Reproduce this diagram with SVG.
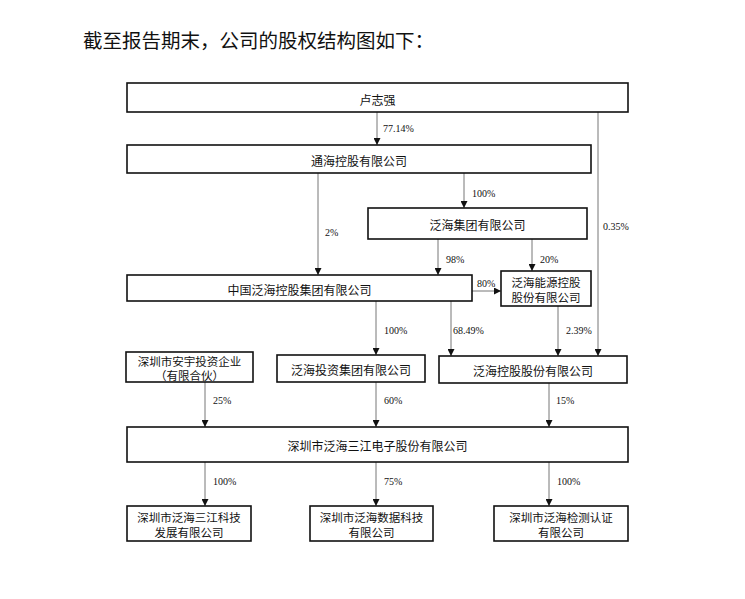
<svg xmlns="http://www.w3.org/2000/svg" width="745" height="599" viewBox="0 0 745 599">
<style>
.box{fill:#fff;stroke:#111;stroke-width:1.6}
.t{font-family:"Noto Sans CJK SC","Liberation Serif",serif;font-size:12px;fill:#111;text-anchor:middle;dominant-baseline:central}
.t2{font-size:11.5px}
.lbl{font-family:"Liberation Serif",serif;font-size:10px;fill:#111;dominant-baseline:central}
.ln{stroke:#777;stroke-width:1;fill:none;marker-end:url(#ah)}
.title{font-family:"Noto Sans CJK SC",sans-serif;font-size:19.5px;fill:#111}
</style>
<defs>
<marker id="ah" markerUnits="userSpaceOnUse" markerWidth="7" markerHeight="7" viewBox="0 0 6 6" refX="6" refY="3" orient="auto">
<path d="M0,0 L6,3 L0,6 z" fill="#111"/>
</marker>
</defs>
<rect width="745" height="599" fill="#fff"/>
<text class="title" x="83" y="48">截至报告期末，公司的股权结构图如下：</text>

<g id="connectors">
<line class="ln" x1="377" y1="112" x2="377" y2="145"/>
<line class="ln" x1="598" y1="112" x2="598" y2="356"/>
<line class="ln" x1="318" y1="173" x2="318" y2="275"/>
<line class="ln" x1="464" y1="173" x2="464" y2="208"/>
<line class="ln" x1="438" y1="239" x2="438" y2="275"/>
<line class="ln" x1="532" y1="239" x2="532" y2="271"/>
<line class="ln" x1="472" y1="291" x2="501" y2="291"/>
<line class="ln" x1="376" y1="301" x2="376" y2="355"/>
<line class="ln" x1="451" y1="301" x2="451" y2="356"/>
<line class="ln" x1="558" y1="306" x2="558" y2="356"/>
<line class="ln" x1="205" y1="382" x2="205" y2="427"/>
<line class="ln" x1="376" y1="382" x2="376" y2="427"/>
<line class="ln" x1="549" y1="383" x2="549" y2="427"/>
<line class="ln" x1="205" y1="462" x2="205" y2="506"/>
<line class="ln" x1="376" y1="462" x2="376" y2="506"/>
<line class="ln" x1="549" y1="462" x2="549" y2="506"/>
<text class="lbl" x="383" y="128">77.14%</text>
<text class="lbl" x="603" y="226">0.35%</text>
<text class="lbl" x="325" y="232">2%</text>
<text class="lbl" x="472" y="193">100%</text>
<text class="lbl" x="446" y="259">98%</text>
<text class="lbl" x="540" y="259">20%</text>
<text class="lbl" x="477" y="283">80%</text>
<text class="lbl" x="384" y="330">100%</text>
<text class="lbl" x="453" y="330">68.49%</text>
<text class="lbl" x="566" y="330">2.39%</text>
<text class="lbl" x="213" y="400">25%</text>
<text class="lbl" x="384" y="400">60%</text>
<text class="lbl" x="556" y="400">15%</text>
<text class="lbl" x="213" y="481">100%</text>
<text class="lbl" x="384" y="481">75%</text>
<text class="lbl" x="557" y="481">100%</text>
</g>

<g id="n_lu"><rect class="box" x="127" y="83" width="501" height="29"/><text class="t" x="377.5" y="99">卢志强</text></g>
<g id="n_tonghai"><rect class="box" x="127" y="145" width="464" height="28"/><text class="t" x="359" y="160">通海控股有限公司</text></g>
<g id="n_fanhai_group"><rect class="box" x="368" y="208" width="219" height="31"/><text class="t" x="477.5" y="224">泛海集团有限公司</text></g>
<g id="n_china_fanhai"><rect class="box" x="127" y="275" width="345" height="26"/><text class="t" x="299.5" y="289">中国泛海控股集团有限公司</text></g>
<g id="n_energy"><rect class="box" x="501" y="271" width="90" height="35"/><text class="t t2" x="546" y="282">泛海能源控股</text><text class="t t2" x="546" y="297">股份有限公司</text></g>
<g id="n_anyu"><rect class="box" x="126" y="352" width="127" height="30"/><text class="t t2" x="189.5" y="360.5">深圳市安宇投资企业</text><text class="t t2" x="189.5" y="375">（有限合伙）</text></g>
<g id="n_invest"><rect class="box" x="277" y="355" width="148" height="27"/><text class="t" x="351" y="369">泛海投资集团有限公司</text></g>
<g id="n_holding"><rect class="box" x="439" y="356" width="188" height="27"/><text class="t" x="533" y="370">泛海控股股份有限公司</text></g>
<g id="n_sanjiang"><rect class="box" x="127" y="427" width="501" height="35"/><text class="t" x="377.5" y="445">深圳市泛海三江电子股份有限公司</text></g>
<g id="n_sub1"><rect class="box" x="127" y="506" width="124" height="35"/><text class="t t2" x="189" y="517">深圳市泛海三江科技</text><text class="t t2" x="189" y="532">发展有限公司</text></g>
<g id="n_sub2"><rect class="box" x="310" y="506" width="123" height="35"/><text class="t t2" x="371.5" y="517">深圳市泛海数据科技</text><text class="t t2" x="371.5" y="532">有限公司</text></g>
<g id="n_sub3"><rect class="box" x="494" y="506" width="134" height="35"/><text class="t t2" x="561" y="517">深圳市泛海检测认证</text><text class="t t2" x="561" y="532">有限公司</text></g>
</svg>
